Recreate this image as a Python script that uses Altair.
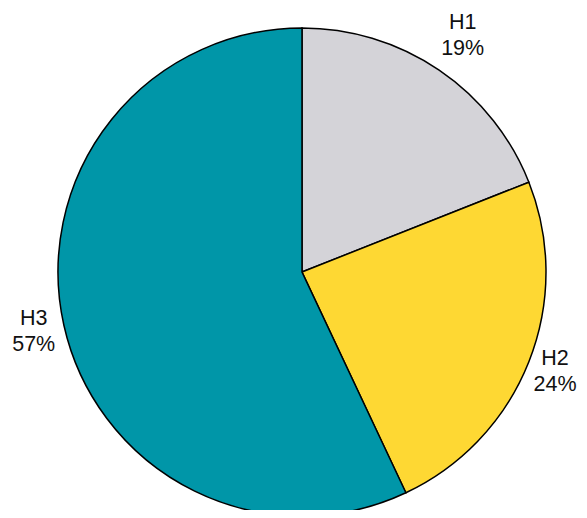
import altair as alt
import pandas as pd

categories = ["H1", "H2", "H3"]
shares = [19, 24, 57]
colors = ["#d4d3d8", "#fed833", "#0096a8"]

df = pd.DataFrame({"cat": categories, "share": shares, "order": [0, 1, 2]})
df["label"] = df.apply(lambda r: [r["cat"], f"{r['share']}%"], axis=1)

cx, cy = 294, 264

pie = alt.Chart(df).mark_arc(outerRadius=244, stroke="black", strokeWidth=1.5).encode(
    theta=alt.Theta("share:Q", stack=True),
    order=alt.Order("order:Q"),
    color=alt.Color("cat:N", scale=alt.Scale(domain=categories, range=colors), legend=None),
    x=alt.value(cx),
    y=alt.value(cy),
)

text = alt.Chart(df).transform_joinaggregate(
    total="sum(share)"
).transform_window(
    cum="sum(share)", sort=[alt.SortField("order")], frame=[None, 0]
).transform_calculate(
    mid="(datum.cum - datum.share / 2) / datum.total",
    # label sits further out where the two-line block lies above/below the pie
    lr="265.5 + 27 * abs(cos(2 * PI * datum.mid)) - 3.6 * sin(2 * PI * datum.mid)",
).mark_text(fontSize=21.5, font="Liberation Sans", color="#111111",
            lineHeight=26, align="center", baseline="middle", dy=-13).encode(
    theta=alt.Theta("mid:Q", stack=None, scale=alt.Scale(domain=[0, 1])),
    radius=alt.Radius("lr:Q", scale=None),
    text="label",
    x=alt.value(cx),
    y=alt.value(cy),
)

chart = alt.layer(pie, text).resolve_scale(theta="independent").properties(
    width=571, height=502, padding=0,
    autosize=alt.AutoSizeParams(type="none"),
).configure_view(stroke=None)

chart.save("out.html", embed_options={"renderer": "svg", "actions": False})
